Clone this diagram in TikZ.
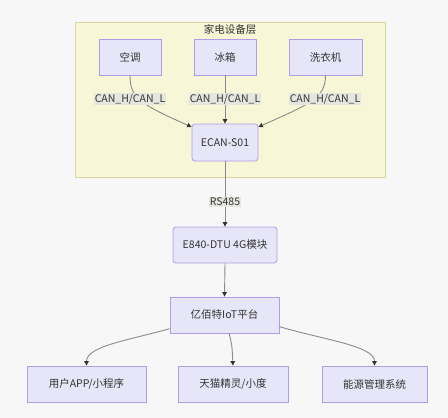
\documentclass[tikz,border=0pt]{standalone}
\usepackage{fontspec}
\setmainfont{Noto Sans CJK SC}
\usetikzlibrary{arrows.meta}
\definecolor{bggray}{HTML}{F7F7F7}
\definecolor{boxfill}{HTML}{E6E6F8}
\definecolor{boxline}{HTML}{B49CE4}
\definecolor{layerfill}{HTML}{F7F7D8}
\definecolor{layerline}{HTML}{D6D6A0}
\definecolor{ink}{HTML}{333333}
\definecolor{wire}{HTML}{8A8A8A}
\definecolor{tagfill}{HTML}{E6E6E0}
\begin{document}
\begin{tikzpicture}[x=1pt, y=-1pt, font=\fontsize{10.5}{12}\selectfont, text=ink,
  box/.style={draw=boxline, fill=boxfill, line width=0.8pt, inner sep=0pt, minimum height=36pt},
  roundbox/.style={box, rounded corners=3pt},
  tag/.style={fill=tagfill, inner sep=1.2pt},
  link/.style={draw=wire, line width=0.9pt, -{Triangle[length=4.5pt, width=4.5pt, fill=ink, color=ink]}}]
  % page background 448x418
  \fill[bggray] (0,0) rectangle (448,418);
  \useasboundingbox (0,0) rectangle (448,418);

  % yellow layer box with title on top "家电设备层"
  \node (layer) [draw=layerline, fill=layerfill, line width=0.8pt, minimum width=310pt, minimum height=155pt] at (230,99.5) {};
  \node (layertitle) at (230,30) {家电设备层};

  % three appliances in a row
  \node (ac) [box, minimum width=62pt] at (130,57) {空调};
  \node (fridge) [box, minimum width=62pt] at (225,57) {冰箱};
  \node (washer) [box, minimum width=73pt] at (325.5,57) {洗衣机};

  % gateway below the appliances
  \node (ecan) [roundbox, minimum width=66pt, minimum height=37pt] at (225,142.5) {ECAN-S01};

  % modules below the layer
  \node (dtu) [roundbox, minimum width=104pt] at (225,245) {E840-DTU 4G模块};
  \node (cloud) [box, minimum width=109pt] at (224.5,315) {亿佰特IoT平台};

  % three users at the bottom
  \node (app) [box, minimum width=119pt] at (86.5,384) {用户APP/小程序};
  \node (tmall) [box, minimum width=110pt] at (233,384) {天猫精灵/小度};
  \node (energy) [box, minimum width=105pt] at (374.5,384) {能源管理系统};

  % bus lines into the gateway
  \draw[link] (ac.south) .. controls (130,98) and (140,104) .. (ecan.155);
  \draw[link] (fridge.south) -- (ecan.north);
  \draw[link] (washer.south) .. controls (325.5,98) and (310,104) .. (ecan.25);
  \node (tagac) [tag] at (130,99) {CAN\_H/CAN\_L};
  \node (tagfridge) [tag] at (225,99) {CAN\_H/CAN\_L};
  \node (tagwasher) [tag] at (325,99) {CAN\_H/CAN\_L};

  % gateway down to dtu, dtu down to platform
  \draw[link] (ecan.south) -- (dtu.north);
  \node (tagrs) [tag] at (225,202) {RS485};
  \draw[link] (dtu.south) -- (cloud.north);

  % platform fans out to the three users
  \draw[link] (cloud.194) .. controls (130,340) and (86.5,346) .. (app.north);
  \draw[link] (cloud.-76) .. controls (232,345) .. (tmall.north);
  \draw[link] (cloud.-12) .. controls (325,340) and (374.5,346) .. (energy.north);
\end{tikzpicture}
\end{document}
